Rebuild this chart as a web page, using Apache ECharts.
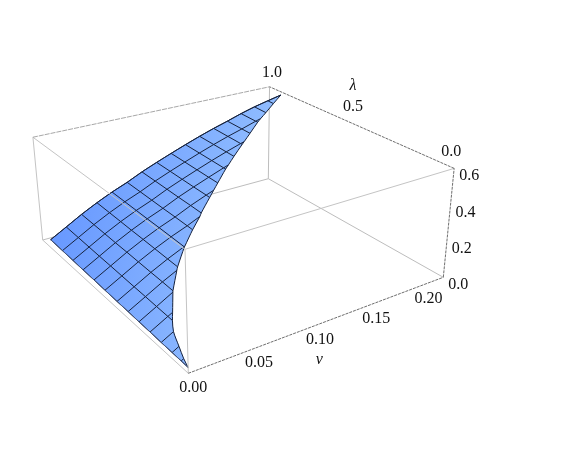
<!DOCTYPE html>
<html>
<head>
<meta charset="utf-8">
<style>
  html, body { margin: 0; padding: 0; background: #fff; }
  #chart { width: 581px; height: 459px; }
</style>
<script src="https://cdn.jsdelivr.net/npm/echarts@6/dist/echarts.min.js"></script>
</head>
<body>
<div id="chart"></div>
<script>
// tick labels
var nuTicks = [0, 0.05, 0.10, 0.15, 0.20];
var lamTicks = [0, 0.5, 1];
var zTicks = [0, 0.2, 0.4, 0.6];

// mesh lines of the surface
var nuLines = [0, 0.0138, 0.0275, 0.0413, 0.055, 0.0688, 0.0825, 0.0963, 0.11, 0.1238, 0.1375, 0.1513, 0.165, 0.1788, 0.1925, 0.2063, 0.22];
var lamLines = [0, 0.038, 0.0885, 0.151, 0.217, 0.285, 0.354, 0.427, 0.509, 0.587, 0.668, 0.745, 0.828, 0.925];

// surface height, one row per lamLines entry, one column per nuLines entry
var surfaceZ = [
  [0.03],
  [0.031],
  [0.032],
  [0.033],
  [0.035, 0.085],
  [0.036, 0.086],
  [0.038, 0.088, 0.138],
  [0.039, 0.089, 0.139, 0.184, 0.224],
  [0.041, 0.091, 0.141, 0.186, 0.226, 0.261],
  [0.043, 0.093, 0.143, 0.188, 0.228, 0.263, 0.303, 0.338],
  [0.044, 0.094, 0.144, 0.189, 0.229, 0.264, 0.304, 0.339, 0.372, 0.404],
  [0.046, 0.096, 0.146, 0.191, 0.231, 0.266, 0.306, 0.341, 0.374, 0.406, 0.436, 0.464],
  [0.048, 0.098, 0.148, 0.193, 0.233, 0.268, 0.308, 0.343, 0.376, 0.408, 0.438, 0.466, 0.491, 0.518],
  [0.05, 0.10, 0.15, 0.195, 0.235, 0.27, 0.31, 0.345, 0.378, 0.41, 0.44, 0.468, 0.493, 0.52, 0.543, 0.562, 0.58]
];

// where each lam line runs into the curved edge
var rowEndNu = [0, 0.0019, 0.0052, 0.0094, 0.0175, 0.0268, 0.0392, 0.0556, 0.0798, 0.103, 0.1283, 0.1547, 0.1838, 0.22];
var rowEndZ = [0.03, 0.038, 0.051, 0.067, 0.098, 0.134, 0.176, 0.225, 0.293, 0.354, 0.414, 0.47, 0.527, 0.58];

// where each nu line runs into the curved edge
var colEndLam = [0, 0.19, 0.29, 0.365, 0.425, 0.475, 0.52, 0.565, 0.61, 0.655, 0.695, 0.735, 0.775, 0.815, 0.85, 0.888, 0.925];
var colEndZ = [0.03, 0.084, 0.136, 0.183, 0.224, 0.26, 0.301, 0.337, 0.371, 0.404, 0.435, 0.464, 0.49, 0.518, 0.541, 0.561, 0.58];

var nuMax = 0.22, lamMax = 1, zMax = 0.6;

// view: screen position of the box corners and perspective weights
var O = [188.3, 373.3], R = [443.3, 277.3], L = [42.7, 240], F = [185, 249.3];
var wx = 1.183, wy = 1.272, wz = 0.94;

function project(nu, lam, z) {
  var x = nu / nuMax, y = lam / lamMax, h = z / zMax;
  var d = 1 + (wx - 1) * x + (wy - 1) * y + (wz - 1) * h;
  return [0, 1].map(function (k) {
    return (O[k] + (wx * R[k] - O[k]) * x + (wy * L[k] - O[k]) * y + (wz * F[k] - O[k]) * h) / d;
  });
}

// build lines in data space
var rowPaths = lamLines.map(function (lam, i) {
  var p = surfaceZ[i].map(function (z, j) { return [nuLines[j], lam, z]; });
  p.push([rowEndNu[i], lam, rowEndZ[i]]);
  return p;
});
var colPaths = nuLines.map(function (nu, j) {
  var p = [];
  for (var i = lamLines.length - 1; i >= 0; i--) {
    if (surfaceZ[i].length > j) p.push([nu, lamLines[i], surfaceZ[i][j]]);
  }
  p.push([nu, colEndLam[j], colEndZ[j]]);
  return p;
});
var curvedEdge = [];
rowEndNu.forEach(function (nu, i) { curvedEdge.push([nu, lamLines[i], rowEndZ[i]]); });
colEndLam.forEach(function (lam, j) { curvedEdge.push([nuLines[j], lam, colEndZ[j]]); });
curvedEdge.sort(function (a, b) { return a[1] - b[1]; });

var lowerEdge = rowPaths.map(function (r) { return r[0]; });
var topRow = rowPaths[lamLines.length - 1];
var outline = lowerEdge.concat(topRow).concat(curvedEdge.slice().reverse());

function pathSeries(paths, style, zlevel, smooth) {
  return {
    type: 'custom',
    coordinateSystem: 'cartesian2d',
    silent: true,
    z: zlevel,
    clip: false,
    data: paths.map(function (p, i) { return [i]; }),
    renderItem: function (params, api) {
      var pts = paths[api.value(0)].map(function (p) {
        return api.coord(project(p[0], p[1], p[2]));
      });
      return { type: 'polyline', shape: { points: pts, smooth: smooth || 0 }, style: style };
    }
  };
}

var c000 = [0, 0, 0], c100 = [nuMax, 0, 0], c010 = [0, lamMax, 0], c110 = [nuMax, lamMax, 0];
var c001 = [0, 0, zMax], c101 = [nuMax, 0, zMax], c011 = [0, lamMax, zMax], c111 = [nuMax, lamMax, zMax];

var meshColor = '#16233f';
var backStyle = { stroke: '#bdbdbd', fill: null, lineWidth: 1 };
var frontStyle = { stroke: '#c4c4c4', fill: null, lineWidth: 1 };
var axisStyle = { stroke: '#6e6e6e', fill: null, lineWidth: 1, lineDash: [3, 1] };
var topStyle = { stroke: '#a8a8a8', fill: null, lineWidth: 1, lineDash: [5, 1] };
var meshStyle = { stroke: meshColor, fill: null, lineWidth: 1 };

// labels: [text, nu, lam, z, dx, dy, italic]
var lamOffsets = [[-3, -17], [1, -16.5], [2.5, -14]];
var labels = [];
nuTicks.forEach(function (t) { labels.push([t.toFixed(2), t, 0, 0, 5, 14]); });
lamTicks.forEach(function (t, i) { labels.push([t.toFixed(1), nuMax, t, zMax, lamOffsets[i][0], lamOffsets[i][1]]); });
zTicks.forEach(function (t) { labels.push([t.toFixed(1), nuMax, 0, t, 15, 7]); });
labels.push(['ν', 0.10, 0, 0, 4.5, 34, true]);
labels.push(['λ', nuMax, 0.5, zMax, 1, -37, true]);

var chart = echarts.init(document.getElementById('chart'));
chart.setOption({
  animation: false,
  backgroundColor: '#fff',
  grid: { left: 0, right: 0, top: 0, bottom: 0 },
  xAxis: { type: 'value', min: 0, max: 581, show: false },
  yAxis: { type: 'value', min: 0, max: 459, inverse: true, show: false },
  series: [
    pathSeries([[c010, c110], [c110, c100], [c110, c111]], backStyle, 1),
    pathSeries([outline], {
      fill: new echarts.graphic.LinearGradient(0, 0.4, 1, 0.6, [
        { offset: 0, color: '#6697ff' },
        { offset: 0.5, color: '#7fadff' },
        { offset: 1, color: '#98c4ff' }
      ]),
      stroke: null
    }, 2),
    pathSeries(rowPaths, meshStyle, 3),
    pathSeries(colPaths, meshStyle, 3),
    pathSeries([curvedEdge], meshStyle, 3, 0.3),
    pathSeries([topRow], meshStyle, 3, 0.3),
    pathSeries([lowerEdge], { stroke: '#4a5a80', fill: null, lineWidth: 1 }, 3),
    pathSeries([[c000, c010], [c010, c011], [c011, c001], [c001, c000], [c001, c101]], frontStyle, 4),
    pathSeries([[c011, c111]], topStyle, 4),
    pathSeries([[c000, c100], [c100, c101], [c101, c111]], axisStyle, 4),
    {
      type: 'custom',
      coordinateSystem: 'cartesian2d',
      silent: true,
      z: 5,
      clip: false,
      data: labels.map(function (l, i) { return [i]; }),
      renderItem: function (params, api) {
        var l = labels[api.value(0)];
        var pos = api.coord(project(l[1], l[2], l[3]));
        return {
          type: 'text',
          style: {
            x: pos[0] + l[4],
            y: pos[1] + l[5],
            text: l[0],
            fill: '#111',
            align: 'center',
            verticalAlign: 'middle',
            font: (l[6] ? 'italic ' : '') + '16px "Liberation Serif"'
          }
        };
      }
    }
  ]
});
</script>
</body>
</html>
